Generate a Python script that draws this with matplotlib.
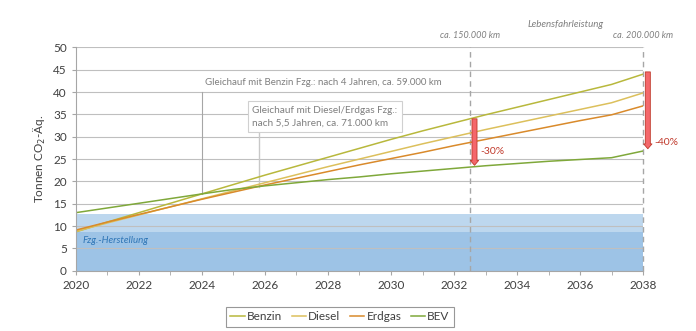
import matplotlib.pyplot as plt
import numpy as np

plt.rcParams['font.family'] = ['Lato', 'DejaVu Sans']

years = np.arange(2020, 2039)
benzin = [8.7, 10.9, 13.0, 15.1, 17.2, 19.3, 21.4, 23.4, 25.4, 27.4, 29.4, 31.3, 33.1, 34.9, 36.6, 38.3, 40.0, 41.7, 44.0]
diesel = [8.8, 10.7, 12.5, 14.3, 16.1, 17.9, 19.7, 21.5, 23.3, 25.0, 26.7, 28.4, 30.0, 31.6, 33.1, 34.6, 36.1, 37.6, 39.8]
erdgas = [9.1, 10.9, 12.6, 14.3, 16.0, 17.6, 19.2, 20.7, 22.2, 23.7, 25.1, 26.5, 28.0, 29.4, 30.8, 32.2, 33.6, 34.9, 36.9]
bev = [13.0, 14.05, 15.1, 16.15, 17.2, 18.2, 19.0, 19.7, 20.4, 21.0, 21.7, 22.3, 22.9, 23.5, 24.0, 24.5, 24.9, 25.3, 26.8]

herstellung_bev = 12.8
herstellung_vm = 8.7

km_years = [2032.5, 2038]
km_labels = ['ca. 150.000 km', 'ca. 200.000 km']

arrow_x = [2032.65, 2038.15]
arrow_top = [34.0, 44.5]
arrow_bottom = [23.6, 27.3]
arrow_labels = ['-30%', '-40%']

fig = plt.figure(figsize=(6.96, 3.31), dpi=100)
ax = fig.add_axes([0.109, 0.182, 0.815, 0.675])

# Herstellung bands
ax.fill_between([2020, 2038], 0, herstellung_bev, color='#bdd7ee', lw=0, zorder=1)
ax.fill_between([2020, 2038], 0, herstellung_vm, color='#9dc3e6', lw=0, zorder=1)
ax.text(2020.2, 6.7, 'Fzg.-Herstellung', color='#2e75b6', fontsize=7,
        style='italic', va='center', zorder=3)

series = [('Benzin', benzin, '#b8b83c'), ('Diesel', diesel, '#dcc05c'),
          ('Erdgas', erdgas, '#d98a2b'), ('BEV', bev, '#7fa83a')]
for name, vals, col in series:
    ax.plot(years, vals, color=col, lw=1.1, label=name, zorder=4)

ax.set_xlim(2020, 2038)
ax.set_ylim(0, 50)
ax.set_xticks(np.arange(2020, 2039, 2))
ax.set_xticks(np.arange(2020, 2039, 1), minor=True)
ax.set_yticks(np.arange(0, 51, 5))
ax.yaxis.grid(True, color='#bfbfbf', lw=0.8, zorder=2)
ax.set_axisbelow(False)
for s in ['top', 'right']:
    ax.spines[s].set_visible(False)
for s in ['left', 'bottom']:
    ax.spines[s].set_color('#a6a6a6')
    ax.spines[s].set_zorder(5)
ax.tick_params(axis='both', which='both', colors='#a6a6a6', labelcolor='#404040',
               labelsize=8.5, length=3, direction='out')
ax.tick_params(axis='x', which='major', pad=4)
ax.set_ylabel('Tonnen CO$_2$-Äq.', fontsize=8.5, color='#404040', labelpad=4)

# km markers
for x, lab in zip(km_years, km_labels):
    ax.plot([x, x], [0, 50], color='#a6a6a6', lw=1.0, ls=(0, (4, 3)), zorder=3, clip_on=False)
    ax.text(x, 52.6, lab, ha='center', va='center', fontsize=6.5, style='italic',
            color='#7f7f7f', clip_on=False)
ax.text(2035.55, 55.2, 'Lebensfahrleistung', ha='center', va='center', fontsize=7,
        style='italic', color='#7f7f7f', clip_on=False)

# break-even annotations
ax.plot([2024, 2024], [17.2, 40], color='#a6a6a6', lw=0.8, zorder=3)
ax.text(2027.85, 42.2, 'Gleichauf mit Benzin Fzg.: nach 4 Jahren, ca. 59.000 km',
        ha='center', va='center', fontsize=7, color='#7f7f7f', zorder=6)
ax.plot([2025.8, 2025.8], [18.8, 31.3], color='#c8c8c8', lw=1.0, zorder=3)
ax.text(2025.6, 34.5, 'Gleichauf mit Diesel/Erdgas Fzg.:\nnach 5,5 Jahren, ca. 71.000 km',
        ha='left', va='center', fontsize=7.2, color='#7f7f7f', linespacing=1.5, zorder=6,
        bbox=dict(boxstyle='square,pad=0.45', fc='white', ec='#d0d0d0', lw=0.8))

# reduction arrows
for x, top, bot, lab in zip(arrow_x, arrow_top, arrow_bottom, arrow_labels):
    ax.annotate('', xy=(x, bot), xytext=(x, top), annotation_clip=False,
                arrowprops=dict(arrowstyle='simple,head_length=0.35,head_width=0.6,tail_width=0.36',
                                mutation_scale=10, fc='#f4676b', ec='#c0392b', lw=0.6,
                                shrinkA=0, shrinkB=0), zorder=7)
ax.text(arrow_x[0] + 0.18, 26.6, arrow_labels[0], fontsize=7.5, color='#c0392b',
        va='center', ha='left')
ax.text(arrow_x[1] + 0.2, 28.7, arrow_labels[1], fontsize=7.5, color='#c0392b',
        va='center', ha='left', clip_on=False)

leg = fig.legend(loc='center', bbox_to_anchor=(340 / 696, 1 - 317 / 331), ncol=4,
                 fontsize=8.5, frameon=True, fancybox=False, edgecolor='#7f7f7f',
                 handlelength=1.2, handletextpad=0.2, columnspacing=0.8,
                 borderpad=0.35)
leg.get_frame().set_linewidth(0.8)
for t in leg.get_texts():
    t.set_color('#404040')

fig.savefig('out.png', dpi=100)
